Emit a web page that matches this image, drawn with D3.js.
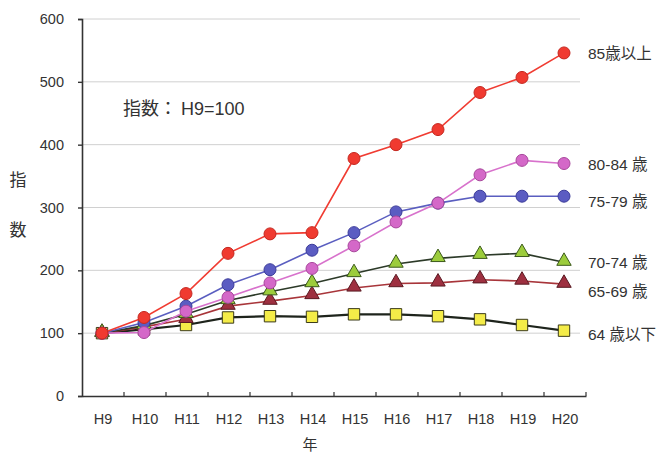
<!DOCTYPE html>
<html>
<head>
<meta charset="utf-8">
<script src="https://cdn.jsdelivr.net/npm/d3@7"></script>
<style>
  html, body { margin: 0; padding: 0; background: #ffffff; }
  svg { display: block; font-family: "Liberation Sans", Arial, "Noto Sans CJK JP", sans-serif; }
</style>
</head>
<body>
<svg id="chart" width="666" height="453"></svg>
<script>
// Fiscal years (Heisei era)
const years = ["H9", "H10", "H11", "H12", "H13", "H14", "H15", "H16", "H17", "H18", "H19", "H20"];
const yTicks = [0, 100, 200, 300, 400, 500, 600];

// Index values by age group (H9 = 100)
const age85plus = [100, 125, 163, 227, 258, 260, 378, 400, 424, 483, 507, 546];
const age80to84 = [100, 101, 135, 157, 180, 203, 239, 277, 307, 352, 375, 370];
const age75to79 = [100, 117, 143, 177, 201, 232, 260, 293, 307, 318, 318, 318];
const age70to74 = [100, 112, 130, 152, 166, 179, 195, 210, 219, 224, 227, 213];
const age65to69 = [100, 110, 122, 143, 151, 160, 172, 179, 180, 185, 183, 178];
const age64under = [100, 106, 113, 125, 127, 126, 130, 130, 127, 122, 113, 104];

const seriesLabels = ["64 歳以下", "65-69 歳", "70-74 歳", "75-79 歳", "80-84 歳", "85歳以上"];

const series = [
  { name: seriesLabels[0], values: age64under, shape: "square",   line: "#1e241c", fill: "#f4ec48", stroke: "#3a3a1a", lw: 2.2, labelY: 335 },
  { name: seriesLabels[1], values: age65to69, shape: "triangle", line: "#a8353a", fill: "#9e3040", stroke: "#5a1a22", lw: 1.6, labelY: 292 },
  { name: seriesLabels[2], values: age70to74, shape: "triangle", line: "#2c3a28", fill: "#9ccc3c", stroke: "#3c5a1c", lw: 1.6, labelY: 263 },
  { name: seriesLabels[3], values: age75to79, shape: "circle",   line: "#5a5ec0", fill: "#5b5cc2", stroke: "#3c3c9a", lw: 1.6, labelY: 202 },
  { name: seriesLabels[4], values: age80to84, shape: "circle",   line: "#d872cc", fill: "#d468c8", stroke: "#a8489c", lw: 1.6, labelY: 165 },
  { name: seriesLabels[5], values: age85plus, shape: "circle",   line: "#f03c32", fill: "#f03a30", stroke: "#c42820", lw: 1.6, labelY: 54 }
];

const svg = d3.select("#chart");
const plotLeft = 82, plotRight = 586, plotTop = 19, plotBottom = 396;
const textColor = "#333";
const mixedFont = "Liberation Sans, Arial, Noto Sans CJK JP, sans-serif";

const x = d3.scaleBand().domain(years).range([plotLeft, plotRight]).paddingInner(0).paddingOuter(0);
const y = d3.scaleLinear().domain([0, 600]).range([plotBottom, plotTop]);
const cx = d => x(d) + x.bandwidth() / 2 - 1;

// Horizontal gridlines
svg.append("g")
  .selectAll("line")
  .data(yTicks.filter(t => t > 0))
  .join("line")
  .attr("x1", plotLeft).attr("x2", 580)
  .attr("y1", d => y(d)).attr("y2", d => y(d))
  .attr("stroke", "#d0d0d0").attr("stroke-width", 1);

// Y axis
const yAxis = svg.append("g")
  .attr("transform", `translate(${plotLeft},0)`)
  .call(d3.axisLeft(y).tickValues(yTicks).tickSize(4).tickPadding(14));
yAxis.select(".domain").attr("stroke", textColor).attr("stroke-width", 1.6);
yAxis.selectAll(".tick line").attr("stroke", textColor).attr("stroke-width", 1.4);
yAxis.selectAll(".tick text").attr("fill", textColor).attr("font-size", 14.5)
  .attr("font-family", "Liberation Sans, Arial, sans-serif");

// X axis: ticks sit on band boundaries, pointing up
const xAxis = svg.append("g")
  .attr("transform", `translate(0,${plotBottom})`)
  .call(d3.axisBottom(x).tickSize(0).tickPadding(18));
xAxis.select(".domain").attr("stroke", textColor).attr("stroke-width", 1.6);
xAxis.selectAll(".tick text").attr("fill", textColor).attr("font-size", 14.5)
  .attr("font-family", "Liberation Sans, Arial, sans-serif");
svg.append("g")
  .selectAll("line")
  .data(years)
  .join("line")
  .attr("x1", d => x(d) + x.bandwidth()).attr("x2", d => x(d) + x.bandwidth())
  .attr("y1", plotBottom).attr("y2", plotBottom - 4)
  .attr("stroke", textColor).attr("stroke-width", 1.2);

// Axis titles
svg.append("text").attr("x", 18).attr("y", 186).attr("text-anchor", "middle")
  .attr("font-size", 17).attr("fill", textColor).attr("font-family", "Noto Sans CJK JP")
  .text("指");
svg.append("text").attr("x", 18).attr("y", 236).attr("text-anchor", "middle")
  .attr("font-size", 17).attr("fill", textColor).attr("font-family", "Noto Sans CJK JP")
  .text("数");
svg.append("text").attr("x", 310).attr("y", 450).attr("text-anchor", "middle")
  .attr("font-size", 15).attr("fill", textColor).attr("font-family", "Noto Sans CJK JP")
  .text("年");

// Note
const note = svg.append("text").attr("x", 123).attr("y", 115)
  .attr("font-size", 18).attr("fill", textColor).attr("font-family", mixedFont);
note.append("tspan").text("指数：");
note.append("tspan").attr("dx", 4).text("H9=100");

const line = d3.line().x((d, i) => cx(years[i])).y(d => y(d));
const tri = d3.symbol().type(d3.symbolTriangle).size(90);
const sq = d3.symbol().type(d3.symbolSquare).size(130);

series.forEach(s => {
  const g = svg.append("g");
  g.append("path").datum(s.values)
    .attr("d", line).attr("fill", "none")
    .attr("stroke", s.line).attr("stroke-width", s.lw);
  const pts = g.selectAll(".pt").data(s.values).join(s.shape === "circle" ? "circle" : "path");
  if (s.shape === "circle") {
    pts.attr("cx", (d, i) => cx(years[i])).attr("cy", d => y(d)).attr("r", 6);
  } else {
    pts.attr("d", s.shape === "square" ? sq : tri)
      .attr("transform", (d, i) => `translate(${cx(years[i])},${y(d) - (s.shape === "triangle" ? 1 : 0)})`);
  }
  pts.attr("fill", s.fill).attr("stroke", s.stroke).attr("stroke-width", 1);

  svg.append("text").attr("x", 588).attr("y", s.labelY + 5)
    .attr("font-size", 15.5).attr("fill", textColor).attr("font-family", mixedFont)
    .text(s.name);
});
</script>
</body>
</html>
